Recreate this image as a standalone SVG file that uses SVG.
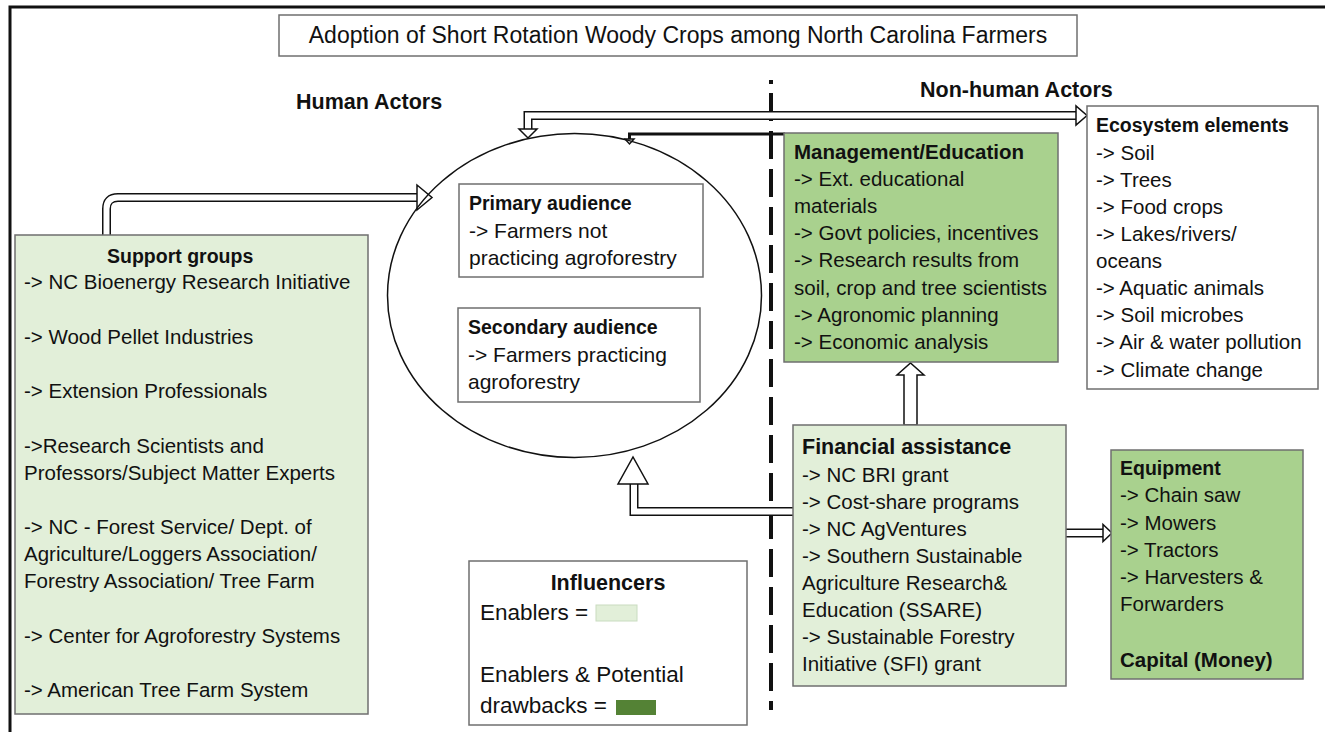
<svg xmlns="http://www.w3.org/2000/svg" width="1325" height="732" viewBox="0 0 1325 732">
<style>
text{font-family:"Liberation Sans",Arial,sans-serif;font-size:20.5px;fill:#111}
.b{font-weight:bold;font-size:19.5px}
.box{stroke:#6f6f6f;stroke-width:1.5}
.lg{fill:#e2efd9}
.mg{fill:#a9d18e}
.wh{fill:#fff}
.sh1{fill:none;stroke:#111;stroke-width:9}
.sh2{fill:none;stroke:#fff;stroke-width:6}
.ah{fill:#fff;stroke:#111;stroke-width:1.5;stroke-linejoin:miter}
.lgd{font-size:22.5px}
</style>
<rect x="0" y="0" width="1325" height="732" fill="#fff"/>
<path d="M10,740 V7 H1340" fill="none" stroke="#111" stroke-width="3"/>

<g id="title">
<rect x="279" y="15" width="798" height="41" class="box wh"/>
<text x="678" y="43" text-anchor="middle" style="font-size:23px">Adoption of Short Rotation Woody Crops among North Carolina Farmers</text>
</g>
<g id="human-actors-label"><text x="296" y="109" class="b" style="font-size:21.5px">Human Actors</text></g>
<g id="nonhuman-actors-label"><text x="920" y="97" class="b" style="font-size:21.5px">Non-human Actors</text></g>

<g id="divider">
<line x1="771" y1="80" x2="771" y2="84" stroke="#111" stroke-width="4"/>
<line x1="771" y1="93" x2="771" y2="710" stroke="#111" stroke-width="4" stroke-dasharray="28 10"/>
</g>

<g id="connectors">
<path class="sh1" d="M106.5,235 V209 Q106.5,197.5 118,197.5 H419"/>
<path class="sh2" d="M106.5,236 V209 Q106.5,197.5 118,197.5 H419"/>
<polygon class="ah" points="417,185 417,210 432,197.5"/>
<path class="sh1" d="M528,130 V115.5 H1077"/>
<path class="sh2" d="M528,131 V115.5 H1077"/>
<polygon class="ah" points="519,129 537,129 528,138"/>
<polygon class="ah" points="1076,106 1076,125 1087,115.5"/>
<path d="M785,134 H629.5 V140" fill="none" stroke="#111" stroke-width="3"/>
<polygon class="ah" points="625,139 634,139 629.5,144"/>
<path class="sh1" d="M793,511.5 H634 V483"/>
<path class="sh2" d="M794,511.5 H634 V483"/>
<polygon class="ah" points="618,484 648,484 633,457"/>
<polygon class="ah" points="904,425 904,375 897,375 910.5,363 924,375 917,375 917,425"/>
<path class="sh1" d="M1066,533 H1104"/>
<path class="sh2" d="M1066,533 H1104"/>
<polygon class="ah" points="1103,524.5 1103,541.5 1112,533"/>
</g>

<g id="support-groups">
<rect x="15" y="235" width="353" height="479" class="box lg"/>
<text x="107" y="263" class="b">Support groups</text>
<text x="24" y="289">-&gt; NC Bioenergy Research Initiative</text>
<text x="24" y="344">-&gt; Wood Pellet Industries</text>
<text x="24" y="398">-&gt; Extension Professionals</text>
<text x="24" y="453">-&gt;Research Scientists and</text>
<text x="24" y="480">Professors/Subject Matter Experts</text>
<text x="24" y="534">-&gt; NC - Forest Service/ Dept. of</text>
<text x="24" y="561">Agriculture/Loggers Association/</text>
<text x="24" y="588">Forestry Association/ Tree Farm</text>
<text x="24" y="643">-&gt; Center for Agroforestry Systems</text>
<text x="24" y="697">-&gt; American Tree Farm System</text>
</g>

<g id="farmers-circle">
<ellipse cx="574.5" cy="295.5" rx="187" ry="162" fill="none" stroke="#111" stroke-width="1.5"/>
</g>

<g id="primary-audience">
<rect x="459" y="184" width="244" height="93" class="box wh"/>
<text x="469" y="210" class="b">Primary audience</text>
<text x="469" y="238" style="font-size:21px">-&gt; Farmers not</text>
<text x="469" y="265" style="font-size:21px">practicing agroforestry</text>
</g>

<g id="secondary-audience">
<rect x="458" y="308" width="242" height="94" class="box wh"/>
<text x="468" y="334" class="b">Secondary audience</text>
<text x="468" y="362" style="font-size:21px">-&gt; Farmers practicing</text>
<text x="468" y="389" style="font-size:21px">agroforestry</text>
</g>

<g id="management-education">
<rect x="784" y="133" width="274" height="229" class="box mg"/>
<text x="794" y="159" class="b" style="font-size:20.5px">Management/Education</text>
<text x="794" y="186">-&gt; Ext. educational</text>
<text x="794" y="213">materials</text>
<text x="794" y="240">-&gt; Govt policies, incentives</text>
<text x="794" y="267">-&gt; Research results from</text>
<text x="794" y="295">soil, crop and tree scientists</text>
<text x="794" y="322">-&gt; Agronomic planning</text>
<text x="794" y="349">-&gt; Economic analysis</text>
</g>

<g id="ecosystem-elements">
<rect x="1087" y="106" width="231" height="283" class="box wh"/>
<text x="1096" y="132" class="b">Ecosystem elements</text>
<text x="1096" y="160">-&gt; Soil</text>
<text x="1096" y="187">-&gt; Trees</text>
<text x="1096" y="214">-&gt; Food crops</text>
<text x="1096" y="241">-&gt; Lakes/rivers/</text>
<text x="1096" y="268">oceans</text>
<text x="1096" y="295">-&gt; Aquatic animals</text>
<text x="1096" y="322">-&gt; Soil microbes</text>
<text x="1096" y="349">-&gt; Air &amp; water pollution</text>
<text x="1096" y="377">-&gt; Climate change</text>
</g>

<g id="financial-assistance">
<rect x="793" y="425" width="273" height="261" class="box lg"/>
<text x="802" y="454" class="b" style="font-size:21.5px">Financial assistance</text>
<text x="802" y="482">-&gt; NC BRI grant</text>
<text x="802" y="509">-&gt; Cost-share programs</text>
<text x="802" y="536">-&gt; NC AgVentures</text>
<text x="802" y="563">-&gt; Southern Sustainable</text>
<text x="802" y="590">Agriculture Research&amp;</text>
<text x="802" y="617">Education (SSARE)</text>
<text x="802" y="644">-&gt; Sustainable Forestry</text>
<text x="802" y="671">Initiative (SFI) grant</text>
</g>

<g id="equipment">
<rect x="1111" y="450" width="192" height="229" class="box mg"/>
<text x="1120" y="475" class="b">Equipment</text>
<text x="1120" y="502">-&gt; Chain saw</text>
<text x="1120" y="530">-&gt; Mowers</text>
<text x="1120" y="557">-&gt; Tractors</text>
<text x="1120" y="584">-&gt; Harvesters &amp;</text>
<text x="1120" y="611">Forwarders</text>
<text x="1120" y="667" class="b" style="font-size:20.5px">Capital (Money)</text>
</g>

<g id="influencers">
<rect x="469" y="561" width="278" height="164" class="box wh"/>
<text x="608" y="590" class="b" text-anchor="middle" style="font-size:21.5px">Influencers</text>
<text x="480" y="620" class="lgd">Enablers =</text>
<rect x="596" y="605" width="41" height="16" fill="#e2efd9" stroke="#c9dcc0" stroke-width="1"/>
<text x="480" y="682" class="lgd">Enablers &amp; Potential</text>
<text x="480" y="713" class="lgd">drawbacks =</text>
<rect x="616" y="700" width="40" height="15" fill="#548235"/>
</g>
</svg>
